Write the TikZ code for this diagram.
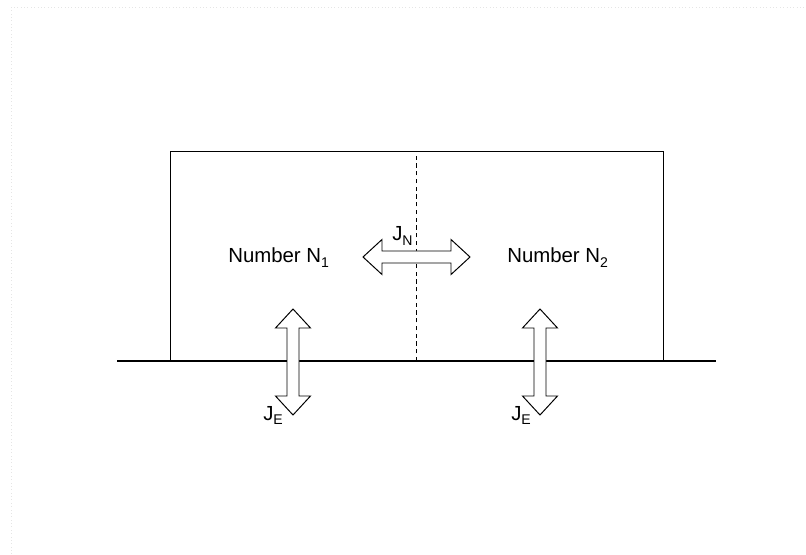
\documentclass[tikz,border=0pt]{standalone}
\usepackage{fontspec}
\setmainfont{Liberation Sans}
\usetikzlibrary{calc}
\newcommand{\lowsub}[1]{\raisebox{-3.2pt}{\fontsize{10}{12}\selectfont #1}}

\begin{document}
\begin{tikzpicture}[
    label text/.style={inner sep=0pt, anchor=base west, font=\fontsize{14.5}{16}\selectfont},
    flux arrow/.style={draw=black, fill=white, line width=0.7pt, line join=miter}
  ]
  \useasboundingbox (0,0) rectangle (20.15,13.85);
  % Faint page frame
  \draw[black!10, dotted] (0.275,0) -- (0.275,13.675) -- (20.15,13.675);

  % Make the two cells and the ground
  \coordinate (BL) at (4.25,4.825);
  \coordinate (TR) at (16.575,10.075);
  \coordinate (M) at (10.4,4.825);
  \draw[line width=0.6pt] (BL) -- (BL |- TR) -- (TR) -- (TR |- BL);
  \draw[line width=0.6pt, dash pattern=on 3pt off 2.5pt] (M) -- (M |- TR);
  \draw[line width=0.9pt] (2.925,4.825) -- (17.9,4.825);

  % Double arrows for the fluxes
  \foreach \name/\cx/\cy/\rot/\len in {jn/10.4125/7.425/0/2.675,
                                        jeone/7.325/4.8/90/2.65,
                                        jetwo/13.5/4.8/90/2.65}{
    \begin{scope}[shift={(\cx,\cy)}, rotate=\rot]
      \pgfmathsetmacro{\h}{\len/2}
      \pgfmathsetmacro{\k}{\len/2-0.475}
      \draw[flux arrow] (-\h,0) -- (-\k,0.4375) -- (-\k,0.15) -- (\k,0.15)
        -- (\k,0.4375) -- (\h,0) -- (\k,-0.4375) -- (\k,-0.15)
        -- (-\k,-0.15) -- (-\k,-0.4375) -- cycle;
      \coordinate (\name) at (0,0);
    \end{scope}
  }

  % Labels
  \node[label text] (numone) at (5.7,7.275) {Number N\lowsub{1}};
  \node[label text] (numtwo) at (12.675,7.275) {Number N\lowsub{2}};
  \node[label text] (jnlabel) at (9.8,7.825) {J\lowsub{N}};
  \node[label text] (jeonelabel) at (6.575,3.35) {J\lowsub{E}};
  \node[label text] (jetwolabel) at (12.775,3.35) {J\lowsub{E}};
\end{tikzpicture}
\end{document}
